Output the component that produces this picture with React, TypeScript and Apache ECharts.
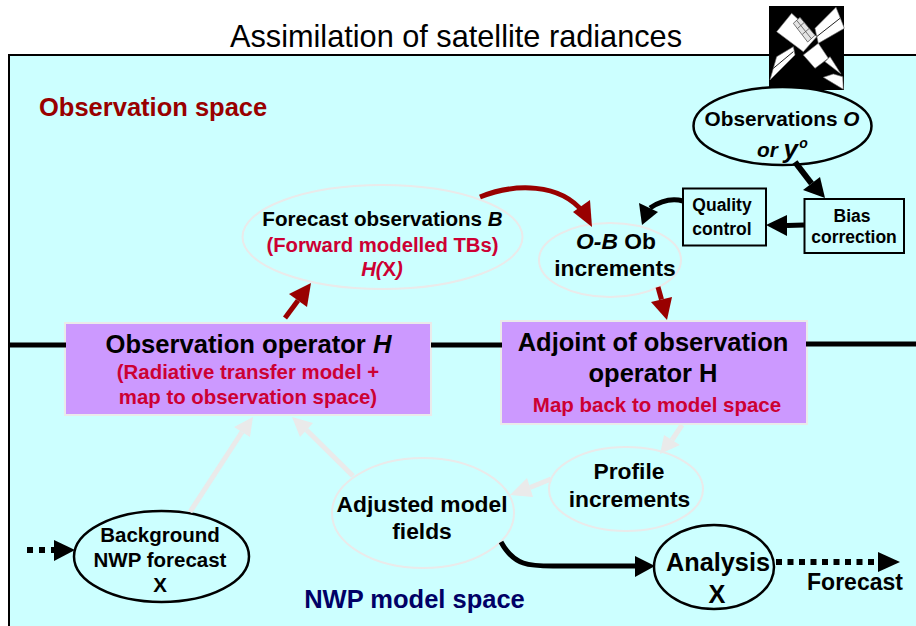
import React, { useEffect, useRef } from "react";
import * as echarts from "echarts";

const titleText = "Assimilation of satellite radiances";
const spaceLabels = ["Observation space", "NWP model space"];
const forecastLines = ["Forecast observations ", "B", "(Forward modelled TBs)", "H(", "X", ")"];
const obOperatorLines = ["Observation operator ", "H", "(Radiative transfer model +", "map to observation space)"];
const adjointLines = ["Adjoint of observation", "operator H", "Map back to model space"];
const observationLines = ["Observations ", "O", "or ", "y", "o"];
const qcLines = ["Quality", "control"];
const biasLines = ["Bias", "correction"];
const obIncLines = ["O-B", " Ob", "increments"];
const profileLines = ["Profile", "increments"];
const adjustedLines = ["Adjusted model", "fields"];
const backgroundLines = ["Background", "NWP forecast", "X"];
const analysisLines = ["Analysis", "X"];
const forecastOut = "Forecast";

const FONT = '"Liberation Sans", Arial, sans-serif';
const BG = "#CCFFFF";
const BLACK = "#000000";
const GREY = "#EAEAEA";
const RED = "#990000";
const CRIMSON = "#CC0033";
const NAVY = "#000066";
const PURPLE = "#CC99FF";

type P = [number, number];

function txt(text: string, x: number, y: number, size: number, color = BLACK, extra: any = {}) {
  return {
    type: "text",
    z: 20,
    style: {
      text,
      x,
      y,
      fill: color,
      font: `${extra.italic ? "italic " : ""}${extra.normal ? "normal" : "bold"} ${size}px ${FONT}`,
      align: extra.align || "center",
      verticalAlign: "middle",
      rich: extra.rich,
    },
  };
}

function richStyle(size: number, color = BLACK) {
  return {
    b: { fontFamily: FONT, fontWeight: "bold", fontSize: size, fill: color },
    i: { fontFamily: FONT, fontWeight: "bold", fontStyle: "italic", fontSize: size, fill: color },
  };
}

function ell(cx: number, cy: number, rx: number, ry: number, stroke: string, lineWidth: number) {
  return { type: "ellipse", z: 5, shape: { cx, cy, rx, ry }, style: { fill: BG, stroke, lineWidth } };
}

function box(x: number, y: number, width: number, height: number, fill: string, stroke: string, lineWidth: number) {
  return { type: "rect", z: 6, shape: { x, y, width, height }, style: { fill, stroke, lineWidth } };
}

function seg(a: P, b: P, color: string, lineWidth: number, extra: any = {}, z = 8) {
  return {
    type: "line",
    z,
    shape: { x1: a[0], y1: a[1], x2: b[0], y2: b[1] },
    style: { stroke: color, lineWidth, ...extra },
  };
}

function poly(points: P[], fill: string, extra: any = {}, z = 9) {
  return { type: "polygon", z, shape: { points }, style: { fill, ...extra } };
}

function arrow(tail: P, tip: P, base1: P, base2: P, color: string, lineWidth: number) {
  const mid: P = [(base1[0] + base2[0]) / 2, (base1[1] + base2[1]) / 2];
  return [seg(tail, mid, color, lineWidth), poly([tip, base1, base2], color)];
}

function curve(a: P, c1: P, c2: P, b: P, color: string, lineWidth: number) {
  return {
    type: "bezierCurve",
    z: 8,
    shape: { x1: a[0], y1: a[1], cpx1: c1[0], cpy1: c1[1], cpx2: c2[0], cpy2: c2[1], x2: b[0], y2: b[1] },
    style: { stroke: color, lineWidth, fill: "none" },
  };
}

function sp(x: number, y: number): P {
  return [765 + x / 3, 2 + y / 3];
}
function sat(points: P[]): P[] {
  return points.map(([x, y]) => sp(x, y));
}

function satellite() {
  const white = { stroke: "#777777", lineWidth: 0.6 };
  const grid = "#555555";
  return [
    { type: "rect", z: 3, shape: { x: 769, y: 6, width: 75, height: 84 }, style: { fill: BLACK } },
    poly(sat([[150, 79], [213, 16], [238, 79], [160, 124]]), "#FFFFFF", white, 4),
    seg(sp(155, 104), sp(225, 49), "#222222", 1, {}, 4),
    poly(sat([[15, 234], [35, 164], [85, 134], [90, 159]]), "#FFFFFF", white, 4),
    seg(sp(25, 199), sp(85, 149), "#222222", 1, {}, 4),
    poly(sat([[115, 159], [160, 124], [190, 169], [150, 199]]), "#FFFFFF", white, 4),
    poly(sat([[180, 179], [195, 164], [228, 216]]), "#FFFFFF", white, 4),
    poly(sat([[175, 226], [205, 216], [233, 224], [235, 262]]), "#FFFFFF", white, 4),
    poly(sat([[35, 89], [80, 34], [155, 104], [115, 149]]), "#FFFFFF", white, 4),
    poly(sat([[85, 64], [105, 46], [150, 100], [128, 120]]), "#E4E4E4", { stroke: grid, lineWidth: 0.8 }, 4),
    seg(sp(97, 80), sp(118, 61), grid, 0.8, {}, 4),
    seg(sp(112, 97), sp(133, 79), grid, 0.8, {}, 4),
    seg(sp(95, 55), sp(139, 110), grid, 0.8, {}, 4),
  ];
}

function buildGraphics() {
  const els: any[] = [];
  // panel
  els.push({ type: "rect", z: 1, shape: { x: 9, y: 55, width: 920, height: 590 }, style: { fill: BG, stroke: BLACK, lineWidth: 2 } });
  els.push(txt(titleText, 456, 36, 30.7, BLACK, { normal: true }));
  els.push(...satellite());

  // divider
  els.push(seg([8, 345], [66, 345], BLACK, 5));
  els.push(seg([431, 345], [502, 345], BLACK, 5));
  els.push(seg([806, 344], [916, 344], BLACK, 5));

  // nodes
  els.push(ell(782.5, 126, 89, 39, BLACK, 2.5));
  els.push(ell(382.5, 237, 140, 52, GREY, 2));
  els.push(ell(610, 260, 71, 37, GREY, 2));
  els.push(ell(161.5, 556.5, 87.5, 45.5, BLACK, 2.5));
  els.push(ell(423, 513, 91, 55, GREY, 2));
  els.push(ell(626, 489, 77, 42, GREY, 2));
  els.push(ell(714, 567, 60, 42, BLACK, 2.5));
  els.push(box(683, 188.5, 83, 57, BG, BLACK, 2));
  els.push(box(804.5, 199, 99.5, 54, BG, BLACK, 2));
  els.push(box(65, 323, 366, 92, PURPLE, GREY, 2));
  els.push(box(501, 321, 306, 103, PURPLE, GREY, 2));

  // black arrows
  els.push(...arrow([795, 162], [825, 198], [803, 190], [820, 177], BLACK, 6));
  els.push(...arrow([804, 225], [766, 225], [787, 215], [787, 236], BLACK, 5));
  els.push(curve([683, 201], [672, 198], [662, 200], [650, 208], BLACK, 5));
  els.push(poly([[642, 225], [639, 203], [658, 212]], BLACK));
  els.push(curve([501, 542], [514, 566], [530, 566], [553, 566], BLACK, 5));
  els.push(seg([553, 566], [637, 566], BLACK, 5));
  els.push(poly([[655, 566], [635, 556], [635, 577]], BLACK));

  // red arrows
  els.push(curve([480, 197], [515, 183], [560, 183], [583, 212], RED, 5));
  els.push(poly([[592, 227], [573, 212], [590, 200]], RED));
  els.push(...arrow([285, 318], [311, 283], [289, 294], [307, 307], RED, 5));
  els.push(...arrow([658, 287], [667, 320], [651, 302], [672, 297], RED, 5));

  // grey arrows
  els.push(...arrow([190, 512], [253, 417], [234, 427], [250, 437], GREY, 5));
  els.push(...arrow([353, 476], [292, 417], [313, 423], [300, 437], GREY, 5));
  els.push(...arrow([682, 425], [660, 454], [664, 435], [680, 445], GREY, 5));
  els.push(...arrow([551, 479], [510, 495], [527, 478], [533, 497], GREY, 5));

  // dotted arrows
  els.push(seg([27, 550], [55, 550], BLACK, 6, { lineDash: [6, 6] }));
  els.push(poly([[75, 550], [54, 540], [54, 561]], BLACK));
  els.push(seg([776, 562], [878, 562], BLACK, 6, { lineDash: [6, 5.5] }));
  els.push(poly([[900, 562], [878, 552], [878, 572]], BLACK));

  // text
  els.push(txt(spaceLabels[0], 39, 106.5, 25.5, RED, { align: "left" }));
  els.push(txt(spaceLabels[1], 414.5, 599, 25.5, NAVY));

  els.push(txt(`{b|${observationLines[0]}}{i|${observationLines[1]}}`, 782, 118, 20.8, BLACK, { rich: richStyle(20.8) }));
  els.push(txt(`{i|${observationLines[2]}}{y|${observationLines[3]}}`, 757, 149, 20.8, BLACK, {
    align: "left",
    rich: { ...richStyle(20.8), y: { fontFamily: FONT, fontWeight: "bold", fontStyle: "italic", fontSize: 26, fill: BLACK } },
  }));
  els.push(txt(observationLines[4], 803.5, 143, 14, BLACK, { italic: true }));

  els.push(txt(qcLines[0], 722, 205, 17.5));
  els.push(txt(qcLines[1], 722, 229, 17.5));
  els.push(txt(biasLines[0], 852, 216, 17.5));
  els.push(txt(biasLines[1], 854, 237, 17.5));

  els.push(txt(`{b|${forecastLines[0]}}{i|${forecastLines[1]}}`, 382.5, 218, 20.6, BLACK, { rich: richStyle(20.6) }));
  els.push(txt(forecastLines[2], 382.5, 245, 20.3, CRIMSON));
  els.push(txt(`{i|${forecastLines[3]}}{b|${forecastLines[4]}}{i|${forecastLines[5]}}`, 382, 269, 20.3, CRIMSON, { rich: richStyle(20.3, CRIMSON) }));

  els.push(txt(`{i|${obIncLines[0]}}{b|${obIncLines[1]}}`, 616, 241, 22.8, BLACK, { rich: richStyle(22.8) }));
  els.push(txt(obIncLines[2], 615, 268, 22.8));

  els.push(txt(`{b|${obOperatorLines[0]}}{i|${obOperatorLines[1]}}`, 248.5, 344, 25.6, BLACK, { rich: richStyle(25.6) }));
  els.push(txt(obOperatorLines[2], 248, 372, 20.4, CRIMSON));
  els.push(txt(obOperatorLines[3], 248, 397, 20.4, CRIMSON));

  els.push(txt(adjointLines[0], 653, 342, 25.5));
  els.push(txt(adjointLines[1], 653, 373, 25.5));
  els.push(txt(adjointLines[2], 657, 404.5, 20.5, CRIMSON));

  els.push(txt(profileLines[0], 629, 471, 22.8));
  els.push(txt(profileLines[1], 629.5, 499, 22.8));
  els.push(txt(adjustedLines[0], 422, 504, 22.8));
  els.push(txt(adjustedLines[1], 422, 531, 22.8));
  els.push(txt(backgroundLines[0], 160, 534.5, 20.5));
  els.push(txt(backgroundLines[1], 160, 559.5, 20.5));
  els.push(txt(backgroundLines[2], 160, 584.5, 20.5));
  els.push(txt(analysisLines[0], 718, 562, 25.3));
  els.push(txt(analysisLines[1], 717, 594, 25.3));
  els.push(txt(forecastOut, 855, 582, 23));
  return els;
}

export default function App() {
  const ref = useRef<HTMLDivElement>(null);
  useEffect(() => {
    document.body.style.margin = "0";
    const chart = echarts.init(ref.current!, null, { renderer: "svg" });
    chart.setOption({
      animation: false,
      backgroundColor: "#FFFFFF",
      graphic: { elements: buildGraphics() },
    });
    return () => chart.dispose();
  }, []);
  return <div ref={ref} style={{ width: 916, height: 626, overflow: "hidden" }} />;
}
